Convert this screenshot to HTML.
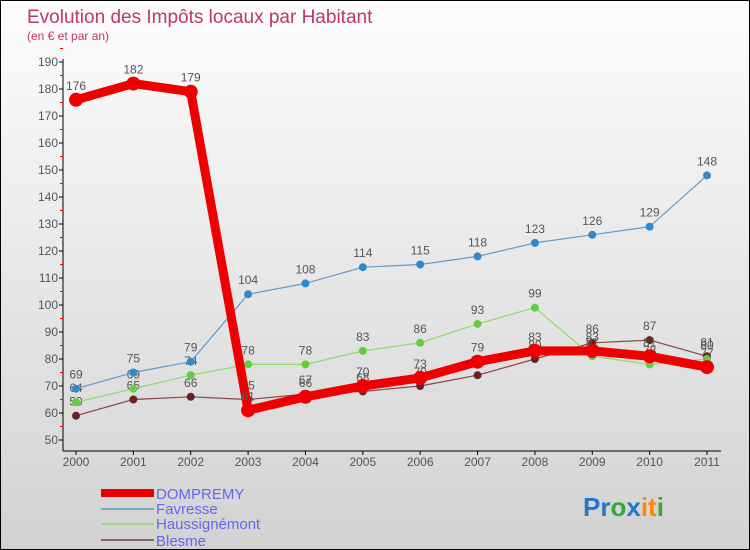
<!DOCTYPE html>
<html><head><meta charset="utf-8"><style>
body{margin:0}
#c{width:750px;height:550px;position:relative;overflow:hidden;font-family:"Liberation Sans",sans-serif;background:linear-gradient(#fdfdfd,#d2d2d2);box-sizing:border-box;border:1px solid #000}
</style></head><body>
<div id="c">
<svg id="s" width="750" height="550" style="position:absolute;left:0;top:0">
<text x="26" y="22" font-size="19" fill="#c0385e">Evolution des Impôts locaux par Habitant</text>
<text x="26" y="39" font-size="12" fill="#c0385e">(en € et par an)</text>
<g id="axes"></g><g id="series"></g>
<g>
<rect x="100" y="488" width="53" height="8" fill="#e80000"/>
<text x="155" y="498" font-size="15" fill="#6666ee">DOMPREMY</text>
<rect x="100" y="507" width="53" height="2" fill="#7aaacc"/>
<text x="155" y="513" font-size="15" fill="#6666ee">Favresse</text>
<rect x="100" y="522" width="53" height="2" fill="#99dd77"/>
<text x="155" y="528" font-size="15" fill="#6666ee">Haussignémont</text>
<rect x="100" y="538" width="53" height="2" fill="#886666"/>
<text x="155" y="545" font-size="15" fill="#6666ee">Blesme</text>
</g>
<text x="582" y="515" font-size="26" font-weight="bold"><tspan fill="#2277cc">Pr</tspan><tspan fill="#33aa33">o</tspan><tspan fill="#2277cc">x</tspan><tspan fill="#ff8800">it</tspan><tspan fill="#33aa33">i</tspan></text>
</svg></div>
<script>
const years=["2000","2001","2002","2003","2004","2005","2006","2007","2008","2009","2010","2011"];
const yTicks=[50,60,70,80,90,100,110,120,130,140,150,160,170,180,190];
const dompremy=[176,182,179,61,66,70,73,79,83,83,81,77];
const favresse=[69,75,79,104,108,114,115,118,123,126,129,148];
const haussignemont=[64,69,74,78,78,83,86,93,99,81,78,80];
const blesme=[59,65,66,65,67,68,70,74,80,86,87,81];
const NS="http://www.w3.org/2000/svg";
const X=i=>75+i*(706-75)/11;
const Y=v=>439-(v-50)*378/140;
function mk(t,a,p){const e=document.createElementNS(NS,t);for(const k in a)e.setAttribute(k,a[k]);p.appendChild(e);return e;}
const ax=document.getElementById('axes');
let l=mk('line',{x1:62,y1:58,x2:62,y2:450,stroke:'#000'},ax);


l=mk('line',{x1:62,y1:450,x2:720,y2:450,stroke:'#000'},ax);


yTicks.forEach(v=>{
 mk('line',{x1:58,x2:62,y1:Y(v),y2:Y(v),stroke:'#000'},ax);
 mk('line',{x1:59,x2:62,y1:Y(v+5),y2:Y(v+5),stroke:'#e00'},ax);
 const t=mk('text',{x:57,y:Y(v)+4,'font-size':12,'text-anchor':'end',fill:'#555'},ax);t.textContent=v;
 
 
});
years.forEach((y,i)=>{
 mk('line',{x1:X(i),x2:X(i),y1:450,y2:454,stroke:'#000'},ax);
 const t=mk('text',{x:X(i),y:465,'font-size':12,'text-anchor':'middle',fill:'#555'},ax);t.textContent=y;
 
 
});
const sg=document.getElementById('series');
function series(name,data,col,pcol,w,r){
 const g=mk('g',{},sg);
 
 
 const ln=mk('polyline',{points:data.map((v,i)=>X(i)+','+Y(v)).join(' '),fill:'none',stroke:col,'stroke-width':w,'stroke-linejoin':'round'},g);
 
 
 data.forEach((v,i)=>{
  const c=mk('circle',{cx:X(i),cy:Y(v),r:r,fill:pcol},g);
  
  
  const t=mk('text',{x:X(i),y:Y(v)-10,'font-size':12,'text-anchor':'middle',fill:'#555'},g);t.textContent=v;
  
  
 });
}
series('blesme',blesme,'#884444','#662222',1.2,4);
series('haussignemont',haussignemont,'#88dd66','#66cc44',1.2,4);
series('favresse',favresse,'#6699cc','#3388cc',1.2,4);
series('dompremy',dompremy,'#ee0000','#ee0000',9,7);
</script>
</body></html>
